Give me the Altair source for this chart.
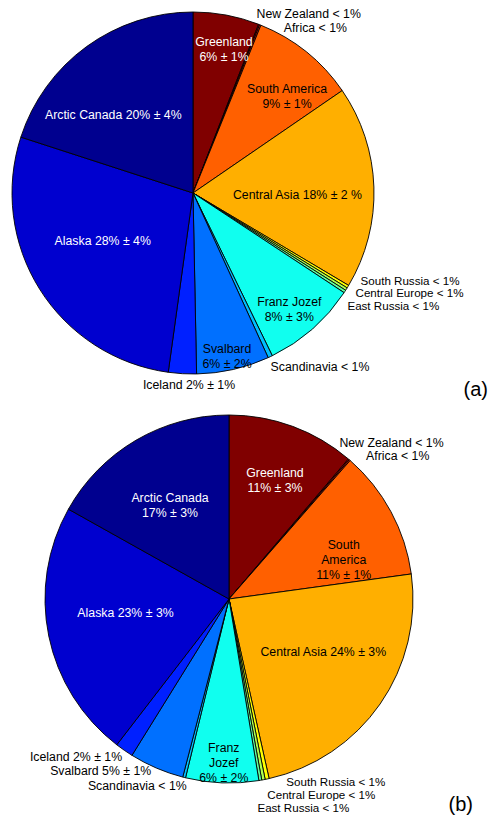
import altair as alt
import pandas as pd

# ---------------- data ----------------
regions = ["Greenland", "New Zealand", "Africa", "South America", "Central Asia",
           "South Russia", "Central Europe", "East Russia", "Franz Jozef",
           "Scandinavia", "Svalbard", "Iceland", "Alaska", "Arctic Canada"]
share_a = [5.9, 0.1, 0.12, 9.3, 18.1, 0.25, 0.25, 0.25, 8.5, 0.4, 6.5, 2.5, 27.8, 20.0]
share_b = [11.25, 0.1, 0.1, 11.4, 23.7, 0.35, 0.3, 0.25, 6.4, 0.25, 4.8, 1.6, 22.7, 16.9]

# jet colormap colours (MATLAB pie style)
colors = ["#800000", "#BF0000", "#FF1000", "#FF6000", "#FFAF00",
          "#FFFF00", "#AFFF50", "#60FF9F", "#10FFEF",
          "#00BFFF", "#0070FF", "#0020FF", "#0000CF", "#00008F"]

labels_a = ["Greenland\n6% ± 1%", "New Zealand < 1%", "Africa < 1%",
            "South America\n9% ± 1%", "Central Asia 18% ± 2 %",
            "South Russia < 1%", "Central Europe < 1%", "East Russia < 1%",
            "Franz Jozef\n8% ± 3%", "Scandinavia < 1%", "Svalbard\n6% ± 2%",
            "Iceland 2% ± 1%", "Alaska 28% ± 4%", "Arctic Canada 20% ± 4%"]
labels_b = ["Greenland\n11% ± 3%", "New Zealand < 1%", "Africa < 1%",
            "South\nAmerica\n11% ± 1%", "Central Asia 24% ± 3%",
            "South Russia < 1%", "Central Europe < 1%", "East Russia < 1%",
            "Franz\nJozef\n6% ± 2%", "Scandinavia < 1%", "Svalbard 5% ± 1%",
            "Iceland 2% ± 1%", "Alaska 23% ± 3%", "Arctic Canada\n17% ± 3%"]
panel_tags = ["(a)", "(b)"]

# ---------------- layout (annotation placement) ----------------
W, H = 480, 807
CA, RA = (185, 185), 181     # pie (a) centre / radius
CB, RB = (221, 591), 184     # pie (b) centre / radius

# label offsets from pie centre (px)
off_a = [(31, -151.5), (115.7, -179), (122.3, -165.3), (94, -104.5), (104.5, 2),
         (217, 88.7), (216.5, 101.4), (200.3, 114.0), (96.3, 109), (127, 173.7),
         (34, 156.2), (-4, 192), (-90.3, 47.7), (-79.7, -78)]
off_b = [(46, -125.8), (162.5, -156.3), (168.7, -143.3), (114.7, -54.2), (94.3, 52.7),
         (106.8, 184.0), (92.3, 196.8), (74.3, 209.5), (-5.2, 149.3), (-91.7, 186.7),
         (-128.3, 172), (-153, 157.7), (-103.5, 14.3), (-59, -100.8)]
tag_pos = [(480, 382), (465, 797)]   # right edge / middle of panel tags
white_labels = {"Greenland", "Alaska", "Arctic Canada"}
stacked_small = {"South Russia", "Central Europe", "East Russia"}
FS, FS_SMALL = 12.3, 11.6


def pie_df(values):
    return pd.DataFrame({"region": regions, "value": values, "idx": list(range(len(regions)))})


def label_df(texts, offs, center):
    rows = []
    for r, t, (dx, dy) in zip(regions, texts, offs):
        rows.append({"text": t, "lx": center[0] + dx, "ly": center[1] + dy,
                     "tc": "white" if r in white_labels else "black",
                     "fs": FS_SMALL if r in stacked_small else FS})
    return pd.DataFrame(rows)


color_scale = alt.Scale(domain=regions, range=colors)


def pie(values, center, radius):
    return alt.Chart(pie_df(values)).mark_arc(stroke="black", strokeWidth=0.9).encode(
        theta=alt.Theta("value:Q", stack=True),
        order=alt.Order("idx:Q"),
        color=alt.Color("region:N", scale=color_scale, legend=None),
        x=alt.value(center[0]),
        y=alt.value(center[1]),
        radius=alt.value(radius),
    )


def labels(texts, offs, center):
    return alt.Chart(label_df(texts, offs, center)).mark_text(
        font="Liberation Sans", lineBreak="\n", lineHeight=15,
        align="center", baseline="middle"
    ).encode(
        x=alt.X("lx:Q", scale=None),
        y=alt.Y("ly:Q", scale=None),
        text="text:N",
        size=alt.Size("fs:Q", scale=None),
        color=alt.Color("tc:N", scale=None),
    )


tags = alt.Chart(pd.DataFrame({"t": panel_tags,
                               "tx": [p[0] for p in tag_pos],
                               "ty": [p[1] for p in tag_pos]})).mark_text(
    font="Liberation Sans", fontSize=20, align="right", baseline="middle", color="black"
).encode(x=alt.X("tx:Q", scale=None), y=alt.Y("ty:Q", scale=None), text="t:N")

chart = alt.layer(
    pie(share_a, CA, RA),
    pie(share_b, CB, RB),
    labels(labels_a, off_a, CA),
    labels(labels_b, off_b, CB),
    tags,
).resolve_scale(theta="independent").properties(
    width=W, height=H, padding=0, autosize=alt.AutoSizeParams(type="none")
).configure_view(stroke=None)

chart.save("out.html", embed_options={"renderer": "svg", "actions": False})
